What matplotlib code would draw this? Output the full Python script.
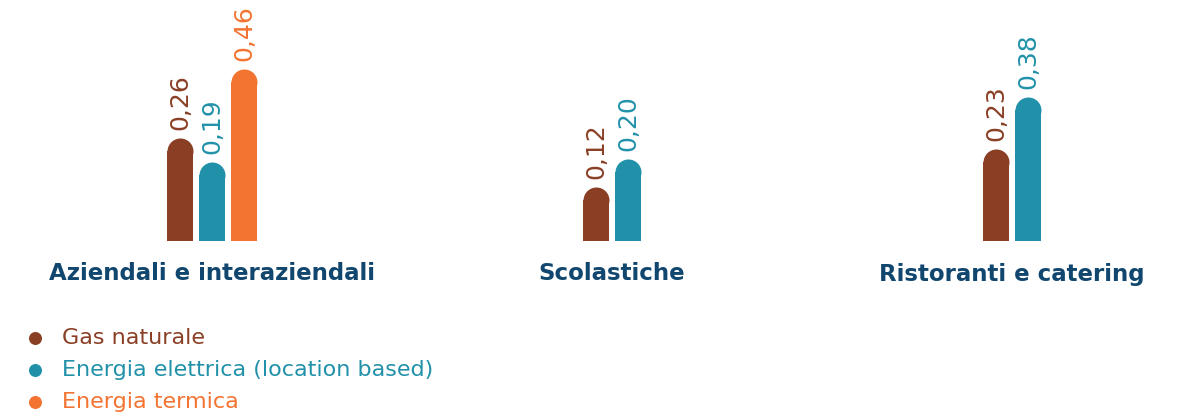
import matplotlib
matplotlib.use("Agg")
import matplotlib.pyplot as plt

categories = ["Aziendali e interaziendali", "Scolastiche", "Ristoranti e catering"]
series_names = ["Gas naturale", "Energia elettrica (location based)", "Energia termica"]
gas_naturale = [0.26, 0.12, 0.23]
energia_elettrica = [0.19, 0.20, 0.38]
energia_termica = [0.46, None, None]
series_values = [gas_naturale, energia_elettrica, energia_termica]
colors = ["#8A3F25", "#2191A9", "#F37331"]
label_color = "#11476E"

W, H, DPI = 11.8, 4.2, 100
fig = plt.figure(figsize=(W, H), dpi=DPI)
fig.patch.set_facecolor("white")

# bar axes: baseline at y=241px from top, full width
base_px = 241
ax = fig.add_axes([0, (420 - base_px) / 420, 1, base_px / 420])
px_per_unit_y = 345
px_per_unit_x = 400
ax.set_ylim(0, base_px / px_per_unit_y)
ax.set_xlim(-212 / px_per_unit_x, (1180 - 212) / px_per_unit_x)
ax.axis("off")

bar_w_px = 26
step_px = 32
bw = bar_w_px / px_per_unit_x
step = step_px / px_per_unit_x
marker_pt = bar_w_px * 72 / DPI

for gi, cat in enumerate(categories):
    present = [si for si in range(len(series_values)) if series_values[si][gi] is not None]
    n = len(present)
    for k, si in enumerate(present):
        v = series_values[si][gi]
        x = gi + (k - (n - 1) / 2) * step
        ax.bar(x, v, width=bw, color=colors[si], linewidth=0)
        ax.plot([x], [v], marker="o", markersize=marker_pt, color=colors[si],
                markeredgewidth=0, clip_on=False)
        cap = bar_w_px / 2 / px_per_unit_y
        ax.text(x, v + cap + 8 / px_per_unit_y, f"{v:.2f}".replace(".", ","),
                rotation=90, ha="center", va="bottom", fontsize=18,
                color=colors[si], clip_on=False)
    fig.text((212 + gi * px_per_unit_x) / 1180, 1 - 274 / 420, cat,
             ha="center", va="center", fontsize=16.5, fontweight="bold",
             color=label_color)

# legend
lax = fig.add_axes([0, 0, 1, 1], facecolor="none")
lax.set_xlim(0, 1180)
lax.set_ylim(420, 0)
lax.axis("off")
for i, name in enumerate(series_names):
    y = 338 + 32 * i
    lax.plot([35], [y], marker="o", markersize=13 * 72 / DPI, color=colors[i],
             markeredgewidth=0)
    lax.text(62, y, name, ha="left", va="center", fontsize=16,
             color=colors[i])

fig.savefig("out.png", dpi=DPI)
